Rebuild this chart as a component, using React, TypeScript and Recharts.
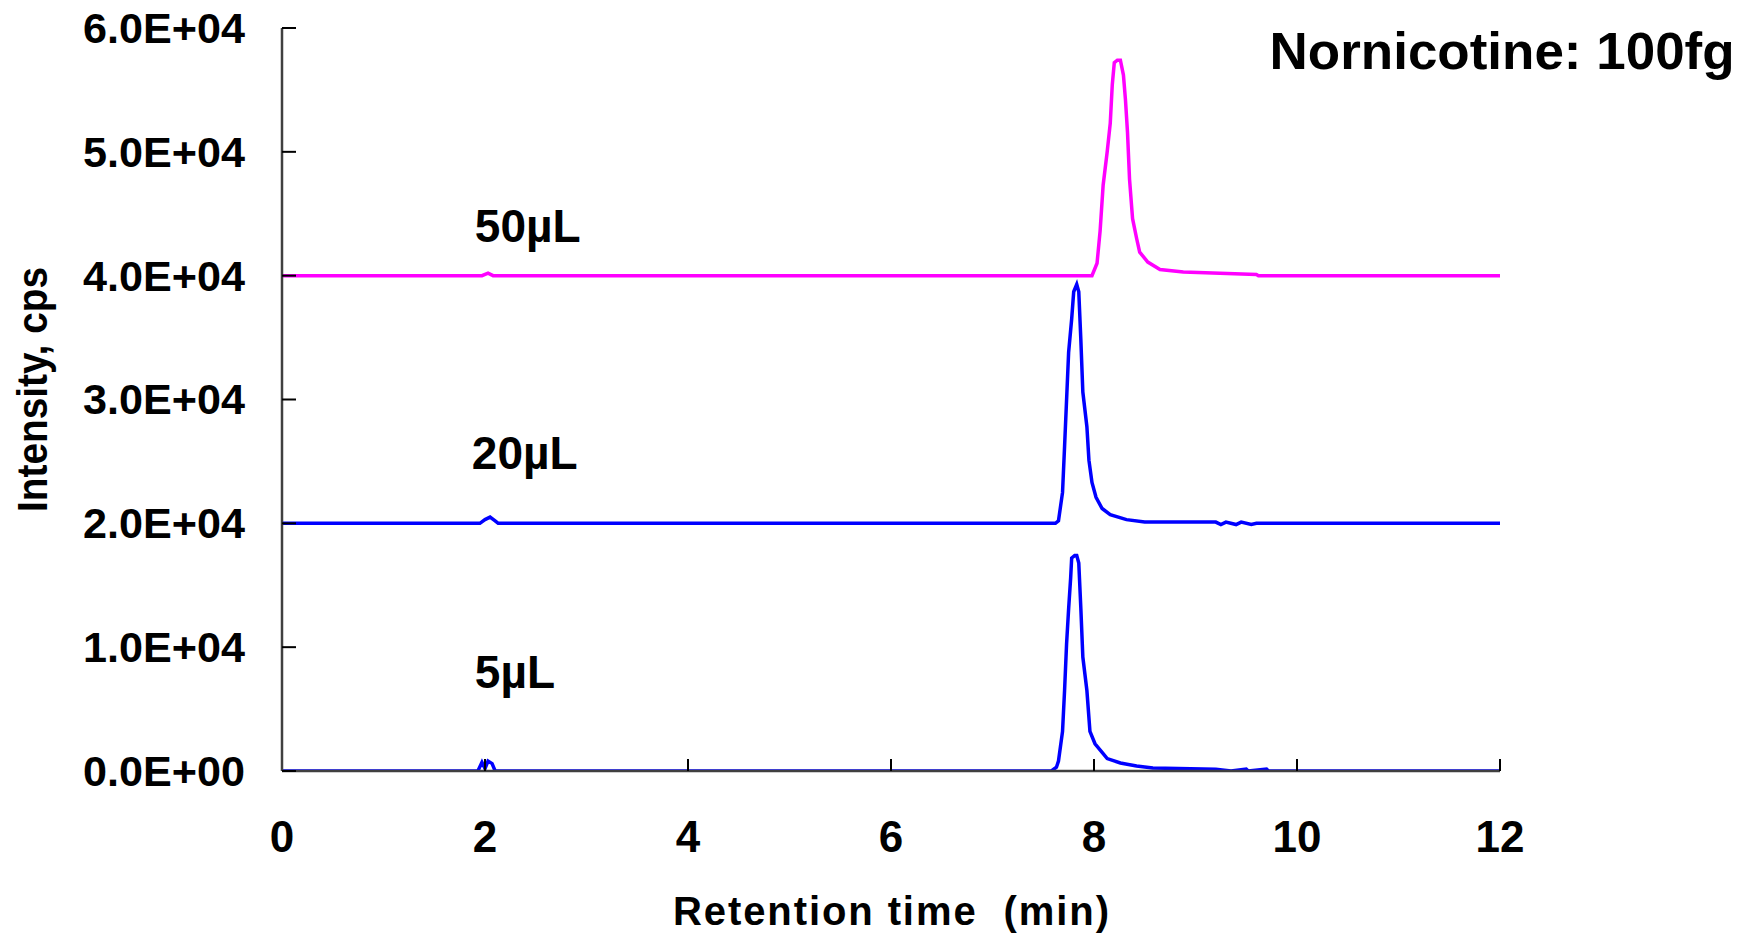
import React from "react";
import { LineChart, Line, XAxis, YAxis, ReferenceDot, Label } from "recharts";

const FONT = '"Liberation Sans", Arial, Helvetica, sans-serif';

// retention time (min) and intensity (cps)
const time5 = [0, 1.93, 1.97, 2.0, 2.03, 2.07, 2.1, 7.58, 7.63, 7.65, 7.69, 7.71, 7.73, 7.75, 7.77, 7.78, 7.81, 7.83, 7.85, 7.87, 7.89, 7.93, 7.96, 8.01, 8.08, 8.13, 8.26, 8.42, 8.58, 9.2, 9.35, 9.5, 9.52, 9.7, 9.72, 12];
const int5 = [0, 0, 700, 200, 800, 600, 0, 0, 300, 800, 3200, 6500, 10300, 13100, 15600, 17200, 17400, 17400, 16800, 13200, 9200, 6500, 3200, 2200, 1500, 1000, 650, 400, 250, 150, 0, 150, 0, 150, 0, 0];

const time20 = [0, 1.95, 2.0, 2.05, 2.1, 2.13, 7.62, 7.65, 7.69, 7.71, 7.73, 7.75, 7.78, 7.8, 7.83, 7.85, 7.87, 7.89, 7.93, 7.95, 7.98, 8.02, 8.08, 8.16, 8.32, 8.5, 9.2, 9.25, 9.3, 9.4, 9.45, 9.55, 9.6, 12];
const int20 = [20000, 20000, 20300, 20500, 20200, 20000, 20000, 20200, 22500, 26200, 30000, 33800, 36500, 38700, 39300, 38700, 34900, 30600, 27800, 25100, 23300, 22100, 21200, 20700, 20300, 20100, 20100, 19900, 20100, 19900, 20100, 19900, 20000, 20000];

const time50 = [0, 1.97, 2.03, 2.08, 7.98, 8.03, 8.06, 8.09, 8.13, 8.16, 8.18, 8.2, 8.23, 8.26, 8.29, 8.31, 8.33, 8.35, 8.38, 8.42, 8.45, 8.53, 8.65, 8.88, 9.6, 9.62, 12];
const int50 = [40000, 40000, 40200, 40000, 40000, 41000, 43600, 47300, 50000, 52300, 55400, 57200, 57400, 57400, 56200, 54200, 51600, 47800, 44600, 43000, 41900, 41100, 40500, 40300, 40100, 40000, 40000];

const xTicks = [0, 2, 4, 6, 8, 10, 12];
const yTicks = [0, 10000, 20000, 30000, 40000, 50000, 60000];

const seriesLabels = ["50µL", "20µL", "5µL"];
const labelTime = [1.9, 1.87, 1.9];
const labelLevel = [42750, 24400, 6700];

const toRows = (t: number[], v: number[]) => t.map((x, i) => ({ t: x, v: v[i] }));

const sci = (v: number) => {
  const [m, e] = v.toExponential(1).split("e");
  const n = Math.abs(parseInt(e, 10));
  return m + "E" + (e[0] === "-" ? "-" : "+") + String(n).padStart(2, "0");
};

const YTick = ({ x, y, payload }: any) => (
  <text x={x} y={y} dy="0.355em" textAnchor="end" fill="#000" fontSize={42} fontWeight="bold"
    fontFamily={FONT} textLength={162} lengthAdjust="spacingAndGlyphs">
    {sci(payload.value)}
  </text>
);

const XTick = ({ x, y, payload }: any) => (
  <text x={x} y={y} dy="0.71em" textAnchor="middle" fill="#000" fontSize={44} fontWeight="bold" fontFamily={FONT}>
    {payload.value}
  </text>
);

export default function App() {
  const lines = [
    { rows: toRows(time50, int50), color: "#FF00FF" },
    { rows: toRows(time20, int20), color: "#0000FF" },
    { rows: toRows(time5, int5), color: "#0000FF" },
  ];
  return (
    <div style={{ position: "absolute", left: 0, top: 0, background: "#fff" }}>
      <LineChart width={1738} height={936} margin={{ top: 28, right: 238, bottom: 0, left: 0 }}>
        <XAxis
          dataKey="t"
          type="number"
          domain={[0, 12]}
          ticks={xTicks}
          height={165}
          axisLine={{ stroke: "#404040", strokeWidth: 2.5 }}
          tickLine={{ stroke: "#000", strokeWidth: 2 }}
          tickSize={-12}
          tickMargin={62}
          tick={<XTick />}
          allowDataOverflow
        >
          <Label
            content={({ viewBox }: any) => (
              <text x={viewBox.x + viewBox.width / 2} y={viewBox.y + 154} textAnchor="middle" fill="#000"
                fontSize={40} fontWeight="bold" fontFamily={FONT} textLength={436} lengthAdjust="spacing">
                {"Retention time\u00a0\u00a0(min)"}
              </text>
            )}
          />
        </XAxis>
        <YAxis
          type="number"
          domain={[0, 60000]}
          ticks={yTicks}
          width={282}
          axisLine={{ stroke: "#404040", strokeWidth: 2.5 }}
          tickLine={{ stroke: "#000", strokeWidth: 2 }}
          tickSize={-14}
          tickMargin={51}
          tick={<YTick />}
          allowDataOverflow
        >
          <Label
            content={({ viewBox }: any) => {
              const cx = viewBox.x + 47;
              const cy = viewBox.y + viewBox.height / 2 - 10;
              return (
                <text x={cx} y={cy} transform={`rotate(-90 ${cx} ${cy})`} textAnchor="middle" fill="#000"
                  fontSize={43} fontWeight="bold" fontFamily={FONT} textLength={245} lengthAdjust="spacingAndGlyphs">
                  Intensity, cps
                </text>
              );
            }}
          />
        </YAxis>
        {lines.map((l, i) => (
          <Line
            key={i}
            data={l.rows}
            dataKey="v"
            type="linear"
            stroke={l.color}
            strokeWidth={3.5}
            dot={false}
            activeDot={false}
            isAnimationActive={false}
          />
        ))}
        {seriesLabels.map((s, i) => (
          <ReferenceDot
            key={s}
            x={labelTime[i]}
            y={labelLevel[i]}
            r={0}
            shape={(p: any) => (
              <text x={p.cx} y={p.cy} fill="#000" fontSize={46} fontWeight="bold" fontFamily={FONT}>
                {s}
              </text>
            )}
          />
        ))}
        <ReferenceDot
          x={9.73}
          y={56650}
          r={0}
          shape={(p: any) => (
            <text x={p.cx} y={p.cy} fill="#000" fontSize={52} fontWeight="bold" fontFamily={FONT}
              textLength={465} lengthAdjust="spacingAndGlyphs">
              Nornicotine: 100fg
            </text>
          )}
        />
      </LineChart>
    </div>
  );
}
